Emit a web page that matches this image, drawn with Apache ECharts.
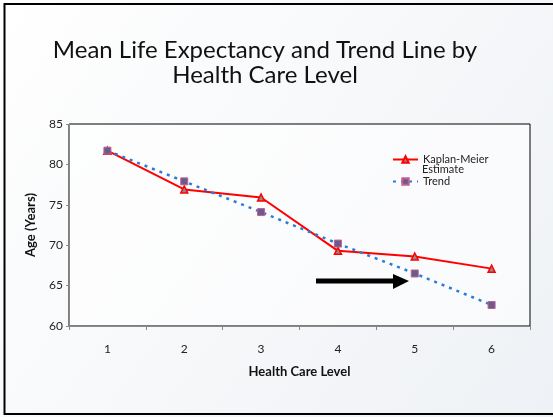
<!DOCTYPE html>
<html>
<head>
<meta charset="utf-8">
<script src="https://cdn.jsdelivr.net/npm/echarts@6/dist/echarts.min.js"></script>
<style>
  html, body { margin: 0; padding: 0; }
  #chart { width: 553px; height: 417px; }
</style>
</head>
<body>
<div id="chart"></div>
<script>
var levels = ['1', '2', '3', '4', '5', '6'];
var kaplanMeier = [81.7, 76.9, 75.9, 69.3, 68.6, 67.1];
var trend = [81.7, 77.9, 74.1, 70.2, 66.5, 62.6];
var yTicks = { min: 60, max: 85, interval: 5 };

var chart = echarts.init(document.getElementById('chart'));

var font = 'Lato, "Open Sans", sans-serif';

var option = {
  backgroundColor: new echarts.graphic.LinearGradient(0, 0, 1, 1, [
    { offset: 0, color: '#ffffff' },
    { offset: 1, color: '#eef1f5' }
  ]),
  title: {
    text: 'Mean Life Expectancy and Trend Line by\nHealth Care Level',
    left: 260,
    top: 33,
    textAlign: 'center',
    textStyle: {
      fontFamily: font,
      fontWeight: 'normal',
      fontSize: 24,
      lineHeight: 25,
      color: '#111'
    }
  },
  grid: {
    left: 69,
    right: 23,
    top: 124,
    bottom: 91,
    show: true,
    backgroundColor: 'rgba(255,255,255,0.6)',
    borderColor: '#000',
    borderWidth: 1
  },
  legend: {
    orient: 'vertical',
    left: 392,
    top: 154,
    padding: 0,
    itemWidth: 25,
    itemHeight: 8,
    itemGap: 11,
    formatter: function (name) {
      return name === 'Kaplan-Meier Estimate' ? 'Kaplan-Meier' : name;
    },
    textStyle: { fontFamily: font, fontSize: 11, color: '#222' },
    data: ['Kaplan-Meier Estimate', 'Trend']
  },
  xAxis: {
    type: 'category',
    data: levels,
    boundaryGap: true,
    name: 'Health Care Level',
    nameLocation: 'middle',
    nameGap: 39,
    nameTextStyle: { fontFamily: font, fontSize: 13, fontWeight: 'bold', color: '#111' },
    axisLine: { lineStyle: { color: '#888', width: 1 } },
    axisTick: { show: true, length: 4, lineStyle: { color: '#888' } },
    axisLabel: { fontFamily: font, fontSize: 12, color: '#222', margin: 17 },
    splitLine: { show: false }
  },
  yAxis: {
    type: 'value',
    min: yTicks.min,
    max: yTicks.max,
    interval: yTicks.interval,
    name: 'Age (Years)',
    nameLocation: 'middle',
    nameGap: 32,
    nameTextStyle: { fontFamily: font, fontSize: 13, fontWeight: 'bold', color: '#111' },
    axisLine: { show: true, lineStyle: { color: '#888', width: 1 } },
    axisTick: { show: true, length: 3, lineStyle: { color: '#888' } },
    axisLabel: { fontFamily: font, fontSize: 12, color: '#222', margin: 6 },
    splitLine: { show: false }
  },
  series: [
    {
      name: 'Kaplan-Meier Estimate',
      type: 'line',
      data: kaplanMeier,
      symbol: 'triangle',
      symbolSize: 7,
      lineStyle: { color: '#ff0000', width: 2 },
      itemStyle: { color: '#8c8c8c', borderColor: '#ff0000', borderWidth: 1.5 },
      z: 2
    },
    {
      name: 'Trend',
      type: 'line',
      data: trend,
      symbol: 'rect',
      symbolSize: 7,
      lineStyle: { color: '#2a7bd8', width: 2.5, type: [3, 5] },
      itemStyle: { color: '#6a5b8e', borderColor: '#c4608e', borderWidth: 1 },
      z: 3
    }
  ],
  graphic: [
    {
      type: 'text',
      left: 422,
      top: 164,
      style: { text: 'Estimate', fontFamily: font, fontSize: 11, fill: '#222' }
    },
    {
      type: 'polygon',
      shape: {
        points: [[316, 278.5], [393, 278.5], [393, 274], [409, 281], [393, 289], [393, 283.5], [316, 283.5]]
      },
      style: { fill: '#000' },
      z: 10
    },
    {
      type: 'rect',
      shape: { x: 4.5, y: 4, width: 570, height: 410 },
      style: { fill: 'none', stroke: '#000', lineWidth: 2 },
      z: 10
    }
  ]
};

chart.setOption(option);
</script>
</body>
</html>
